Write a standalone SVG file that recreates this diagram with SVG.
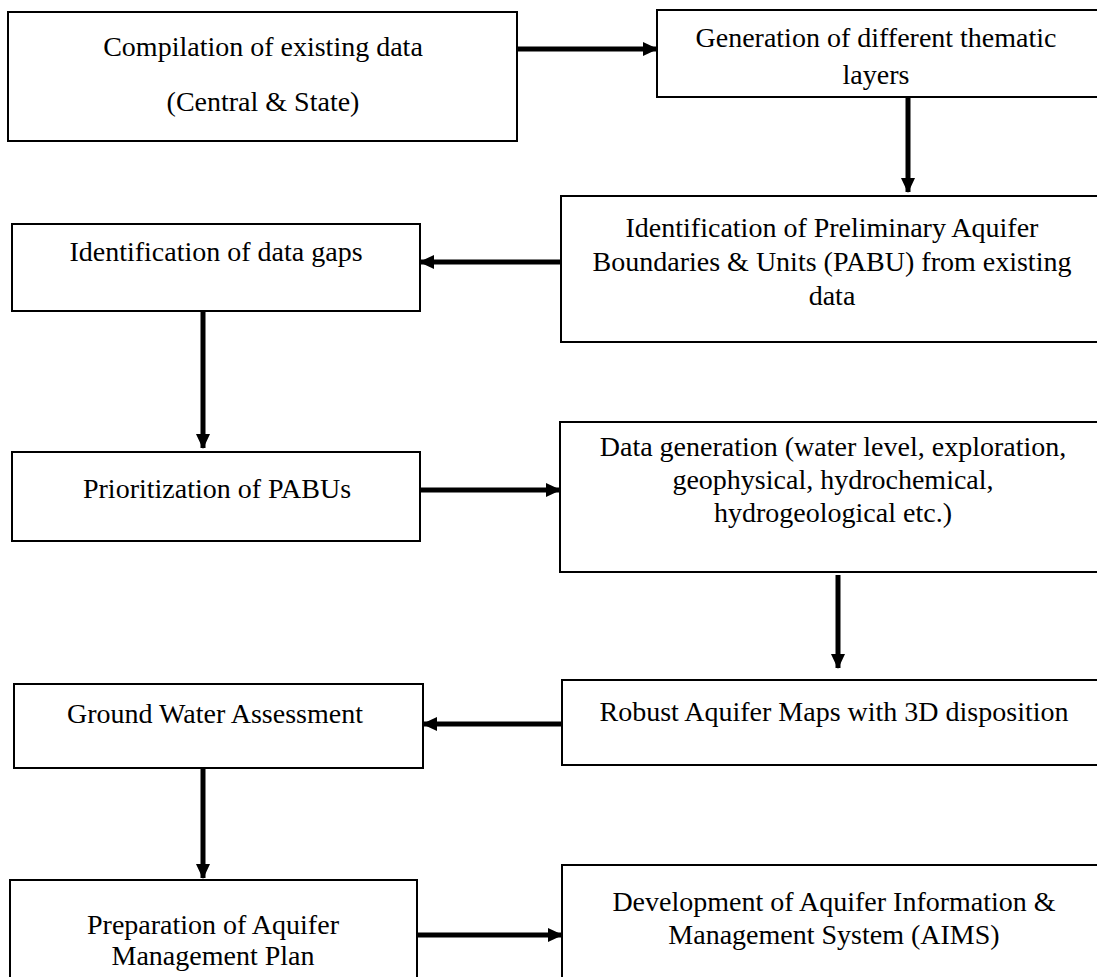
<svg xmlns="http://www.w3.org/2000/svg" width="1097" height="977" viewBox="0 0 1097 977">
<style>
.box{fill:#fff;stroke:#000;stroke-width:2}
.t{font-family:"Liberation Serif","DejaVu Serif",serif;font-size:28px;fill:#000;text-anchor:middle}
.c{stroke:#000;stroke-width:5;fill:none}
</style>
<defs>
<marker id="ah" markerUnits="userSpaceOnUse" markerWidth="16" markerHeight="16" refX="14" refY="8" orient="auto">
<path d="M0,1 L15,8 L0,15 Z" fill="#000"/>
</marker>
</defs>
<rect width="1097" height="977" fill="#fff"/>
<g id="n1"><rect class="box" x="8" y="12" width="509" height="129"/>
<text class="t" x="263" y="56">Compilation of existing data</text>
<text class="t" x="263" y="111">(Central &amp; State)</text></g>
<g id="n2"><rect class="box" x="657" y="10" width="445" height="87"/>
<text class="t" x="876" y="47">Generation of different thematic</text>
<text class="t" x="876" y="84">layers</text></g>
<g id="n3"><rect class="box" x="561" y="196" width="541" height="146"/>
<text class="t" x="832" y="237">Identification of Preliminary Aquifer</text>
<text class="t" x="832" y="271">Boundaries &amp; Units (PABU) from existing</text>
<text class="t" x="832" y="305">data</text></g>
<g id="n4"><rect class="box" x="12" y="224" width="408" height="87"/>
<text class="t" x="216" y="261">Identification of data gaps</text></g>
<g id="n5"><rect class="box" x="12" y="452" width="408" height="89"/>
<text class="t" x="217" y="498">Prioritization of PABUs</text></g>
<g id="n6"><rect class="box" x="560" y="422" width="542" height="150"/>
<text class="t" x="833" y="456">Data generation (water level, exploration,</text>
<text class="t" x="833" y="489">geophysical, hydrochemical,</text>
<text class="t" x="833" y="522">hydrogeological etc.)</text></g>
<g id="n7"><rect class="box" x="562" y="680" width="540" height="85"/>
<text class="t" x="834" y="721">Robust Aquifer Maps with 3D disposition</text></g>
<g id="n8"><rect class="box" x="14" y="684" width="409" height="84"/>
<text class="t" x="215" y="723">Ground Water Assessment</text></g>
<g id="n9"><rect class="box" x="10" y="880" width="407" height="105"/>
<text class="t" x="213" y="934">Preparation of Aquifer</text>
<text class="t" x="213" y="965">Management Plan</text></g>
<g id="n10"><rect class="box" x="562" y="865" width="540" height="120"/>
<text class="t" x="834" y="911">Development of Aquifer Information &amp;</text>
<text class="t" x="834" y="944">Management System (AIMS)</text></g>
<g id="connectors">
<line class="c" x1="517" y1="49" x2="657" y2="49" marker-end="url(#ah)"/>
<line class="c" x1="908" y1="97" x2="908" y2="192" marker-end="url(#ah)"/>
<line class="c" x1="561" y1="262" x2="420" y2="262" marker-end="url(#ah)"/>
<line class="c" x1="203" y1="311" x2="203" y2="448" marker-end="url(#ah)"/>
<line class="c" x1="420" y1="490" x2="560" y2="490" marker-end="url(#ah)"/>
<line class="c" x1="838" y1="575" x2="838" y2="668" marker-end="url(#ah)"/>
<line class="c" x1="562" y1="724" x2="423" y2="724" marker-end="url(#ah)"/>
<line class="c" x1="203" y1="768" x2="203" y2="878" marker-end="url(#ah)"/>
<line class="c" x1="417" y1="935" x2="562" y2="935" marker-end="url(#ah)"/>
</g>
</svg>
